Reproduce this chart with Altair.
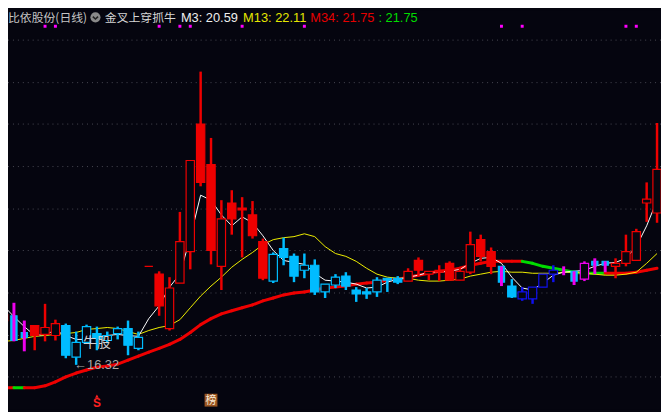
import altair as alt
import pandas as pd

# ---------------- data ----------------
opens  = [18.81, 19.08, 18.14, 18.53, 18.03, 17.97, 18.53, 16.75, 17.58, 18.08,
          17.69, 18.08, 18.36, 17.25, 21.86, 21.42, 18.36, 20.92, 22.69, 29.86,
          27.58, 21.86, 25.42, 25.14, 24.75, 23.25, 21.03, 22.86, 22.42, 21.64,
          21.92, 20.42, 20.81, 21.31, 20.53, 20.42, 20.42, 21.19, 21.19, 21.03,
          22.19, 21.42, 21.64, 22.03, 21.08, 21.53, 23.36, 22.69, 21.86, 20.75,
          20.03, 20.03, 20.69, 21.42, 21.69, 21.58, 21.14, 22.14, 22.14, 21.86,
          22.03, 22.19, 25.42, 24.86]
highs  = [20.03, 19.81, 18.81, 18.53, 19.75, 18.86, 18.64, 18.19, 18.58, 18.47,
          18.19, 18.47, 18.81, 18.19, 21.86, 21.58, 21.25, 24.92, 27.81, 32.81,
          29.08, 25.58, 26.14, 25.75, 25.53, 23.42, 22.64, 23.47, 22.58, 22.58,
          22.25, 20.86, 21.42, 21.53, 20.69, 20.64, 21.25, 21.19, 21.31, 21.75,
          22.36, 21.58, 21.92, 22.14, 21.75, 23.81, 23.64, 22.92, 21.86, 21.14,
          20.69, 20.69, 21.42, 21.92, 21.86, 21.58, 22.14, 22.31, 22.14, 22.31,
          23.64, 23.97, 26.58, 29.92]
lows   = [18.36, 17.64, 17.08, 17.14, 17.64, 17.69, 16.69, 16.32, 17.53, 17.14,
          17.53, 17.75, 16.86, 17.14, 21.86, 19.08, 18.25, 20.92, 21.69, 26.36,
          21.97, 20.53, 23.64, 22.36, 23.42, 21.08, 20.92, 21.92, 20.97, 21.19,
          20.25, 20.08, 20.64, 20.53, 19.86, 20.03, 20.14, 20.42, 20.86, 21.03,
          21.31, 21.08, 21.03, 21.08, 21.08, 21.42, 22.14, 21.42, 20.75, 20.08,
          19.92, 19.75, 20.69, 20.97, 21.36, 20.81, 21.03, 21.42, 21.53, 21.19,
          21.86, 22.19, 24.36, 24.31]
closes = [19.14, 17.69, 17.86, 17.97, 18.42, 18.64, 16.86, 17.58, 18.47, 17.81,
          17.97, 18.36, 17.42, 17.86, 21.86, 19.64, 20.64, 23.25, 27.81, 26.58,
          22.75, 24.53, 24.53, 25.03, 23.58, 21.19, 22.53, 22.36, 21.31, 21.92,
          20.42, 20.86, 21.25, 20.75, 20.31, 20.31, 21.08, 21.08, 20.97, 21.58,
          21.64, 21.58, 21.53, 21.08, 21.58, 23.08, 22.42, 21.86, 20.97, 20.14,
          20.42, 20.69, 21.42, 21.64, 21.58, 21.03, 22.03, 21.92, 21.92, 22.03,
          22.69, 23.81, 25.64, 27.31]
# candle style as seen: r=red, c=cyan, b=blue, m=magenta; h=hollow, f=filled; cm=cyan body + magenta bar
kinds  = ["rh", "cm", "cm", "rf", "rh", "rh", "cf", "ch", "ch", "cf",
          "ch", "ch", "cf", "ch", "rf", "rf", "rh", "rh", "rh", "rf",
          "rf", "rh", "rf", "rf", "rf", "rf", "ch", "cf", "cf", "ch",
          "cf", "ch", "ch", "cf", "cf", "cf", "ch", "cf", "cf", "rh",
          "rf", "rh", "rf", "rf", "rh", "rh", "rf", "rf", "cm", "cf",
          "bh", "bh", "bh", "bh", "m", "cm", "mh", "cm", "cm", "rh",
          "rh", "rh", "rh", "rh"]

m3  = [19.64, 19.03, 18.47, 17.97, 18.03, 18.25, 17.97, 17.75, 17.75, 17.86,
       17.97, 18.03, 17.97, 17.92, 18.92, 19.64, 20.69, 21.42, 23.47, 25.86,
       25.58, 24.75, 24.14, 24.64, 24.31, 23.58, 22.75, 22.19, 22.08, 21.97,
       21.47, 21.08, 21.03, 20.97, 20.86, 20.64, 20.69, 20.97, 21.14, 21.25,
       21.36, 21.53, 21.53, 21.58, 21.69, 22.03, 22.31, 22.36, 22.03, 21.25,
       20.64, 20.53, 20.92, 21.36, 21.53, 21.58, 21.64, 21.86, 22.03, 22.08,
       22.31, 22.97, 24.14, 25.58]
m13 = [17.64, 17.69, 17.81, 17.92, 17.97, 18.03, 18.08, 18.14, 18.31, 18.36,
       18.42, 18.36, 18.19, 18.03, 18.25, 18.42, 18.53, 18.86, 19.53, 20.19,
       20.75, 21.25, 21.81, 22.25, 22.64, 23.08, 23.36, 23.47, 23.53, 23.69,
       23.53, 22.97, 22.58, 22.42, 22.14, 21.75, 21.42, 21.25, 21.19, 21.19,
       21.08, 21.03, 21.03, 21.08, 21.14, 21.31, 21.42, 21.53, 21.58, 21.53,
       21.53, 21.47, 21.47, 21.47, 21.53, 21.53, 21.47, 21.42, 21.36, 21.36,
       21.42, 21.53, 22.03, 22.58]
m34 = [15.03, 15.03, 15.03, 15.03, 15.14, 15.36, 15.64, 15.86, 16.03, 16.19,
       16.25, 16.36, 16.58, 16.81, 17.03, 17.25, 17.47, 17.75, 18.14, 18.58,
       18.92, 19.19, 19.36, 19.53, 19.69, 19.92, 20.08, 20.25, 20.36, 20.42,
       20.53, 20.64, 20.69, 20.75, 20.86, 20.92, 20.97, 21.08, 21.14, 21.25,
       21.36, 21.47, 21.58, 21.64, 21.75, 21.92, 22.03, 22.14, 22.14, 22.14,
       22.14, 22.03, 21.86, 21.75, 21.64, 21.53, 21.47, 21.47, 21.47, 21.47,
       21.47, 21.53, 21.64, 21.75]
m34_green_segments = [1, 50, 51, 52, 53, 54, 55, 56, 57]   # segment i -> i+1 drawn green

signal_days = [0, 4, 5, 15, 17, 18, 23, 29, 48, 50, 60, 61]
grid_levels = [15.64, 17.97, 20.36, 22.75, 25.08, 27.47, 29.86, 32.19, 34.58]

low_day, low_price = 7, 16.32
niu_day, niu_price = 9, 17.53
s_icon_day = 9
bang_icon_day = 20

stock_title = "比依股份(日线)"
indicator_name = "金叉上穿抓牛"
hdr_m3, hdr_m13, hdr_m34, hdr_last = 20.59, 22.11, 21.75, 21.75

# ---------------- styling ----------------
BG = "#05050f"
RED = "#ee0000"
CYAN = "#00bcff"
BLUE = "#1010ee"
MAG = "#ee00ee"
GREEN = "#00dd00"

n = len(opens)
df = pd.DataFrame({"i": list(range(n)), "o": opens, "h": highs, "l": lows, "c": closes, "k": kinds})
base = {"rh": RED, "rf": RED, "ch": CYAN, "cf": CYAN, "bh": BLUE, "mh": MAG, "cm": CYAN, "m": MAG}
df["top"] = df[["o", "c"]].max(axis=1)
df["bot"] = df[["o", "c"]].min(axis=1)
df["col"] = [base[k] for k in kinds]
df["fillc"] = [BG if k in ("rh", "ch", "bh", "mh") else base[k] for k in kinds]
df["half"] = [0.3 if k == "cm" else 0.4 for k in kinds]
df["x0"] = df["i"] - df["half"]
df["x1"] = df["i"] + df["half"]
df["m3"] = m3
df["m13"] = m13

seg = pd.DataFrame({
    "i": list(range(n - 1)),
    "j": list(range(1, n)),
    "a": m34[:-1],
    "b": m34[1:],
    "col": [GREEN if s in m34_green_segments else RED for s in range(n - 1)],
})

xs = alt.Scale(domain=[0.4286, 63.381], nice=False, zero=False)
ys = alt.Scale(domain=[13.805, 36.25], nice=False, zero=False)
X = lambda f: alt.X(f, scale=xs, axis=None)
Y = lambda f: alt.Y(f, scale=ys, axis=None)

grid = alt.Chart(pd.DataFrame({"g": grid_levels})).mark_rule(
    color="#4a4a54", strokeDash=[1, 4], strokeWidth=1
).encode(y=Y("g:Q"))

m34_line = alt.Chart(seg).mark_rule(strokeWidth=3, strokeCap="round").encode(
    x=X("i:Q"), x2="j:Q", y=Y("a:Q"), y2="b:Q", color=alt.Color("col:N", scale=None)
)
m13_line = alt.Chart(df).mark_line(color="#f0f000", strokeWidth=1).encode(x=X("i:Q"), y=Y("m13:Q"))
m3_line = alt.Chart(df).mark_line(color="#ffffff", strokeWidth=1).encode(x=X("i:Q"), y=Y("m3:Q"))

wicks = alt.Chart(df).transform_filter(
    "datum.k != 'cm' && datum.k != 'm'"
).mark_rule(strokeWidth=2.5).encode(
    x=X("i:Q"), y=Y("l:Q"), y2="h:Q", color=alt.Color("col:N", scale=None)
)
bodies = alt.Chart(df).transform_filter("datum.k != 'm'").mark_rect(strokeWidth=1.2).encode(
    x=X("x0:Q"), x2="x1:Q", y=Y("bot:Q"), y2="top:Q",
    fill=alt.Fill("fillc:N", scale=None), stroke=alt.Stroke("col:N", scale=None)
)
magbars = alt.Chart(df).transform_filter(
    "datum.k == 'cm' || datum.k == 'm'"
).mark_rule(strokeWidth=3, color=MAG).encode(x=X("i:Q"), y=Y("l:Q"), y2="h:Q")

niu = alt.Chart(pd.DataFrame({"i": [niu_day], "p": [niu_price], "t": ["牛股"]})).mark_text(
    font="Noto Sans CJK SC", fontSize=14, color="#d0d0d0", align="center", baseline="middle"
).encode(x=X("i:Q"), y=Y("p:Q"), text="t:N")
lowlbl = alt.Chart(pd.DataFrame({"i": [low_day], "p": [low_price], "t": [f"←{low_price:.2f}"]})).mark_text(
    font="Liberation Sans", fontSize=13, color="#a8a8a8", align="left", baseline="middle", dx=-2
).encode(x=X("i:Q"), y=Y("p:Q"), text="t:N")

dots = alt.Chart(pd.DataFrame({"i": signal_days})).mark_square(size=9, color="#ff00ff", opacity=1).encode(
    x=X("i:Q"), y=alt.value(16)
)

def htext(t, x, color, font, size):
    return alt.Chart(pd.DataFrame({"t": [t]})).mark_text(
        font=font, fontSize=size, color=color, align="left", baseline="alphabetic"
    ).encode(text="t:N", x=alt.value(x), y=alt.value(11.5))

hdr = [
    htext(stock_title, 0, "#c4c4c4", "Noto Sans CJK SC", 12),
    htext(indicator_name, 98, "#d6d6d6", "Noto Sans CJK SC", 12),
    htext(f"M3: {hdr_m3:.2f}", 175, "#eeeeee", "Liberation Sans", 13),
    htext(f"M13: {hdr_m13:.2f}", 238, "#e6e600", "Liberation Sans", 13),
    htext(f"M34: {hdr_m34:.2f}", 306, "#e60000", "Liberation Sans", 13),
    htext(f": {hdr_last:.2f}", 375, "#00dd00", "Liberation Sans", 13),
]
icon = alt.Chart(pd.DataFrame({"t": [0]})).mark_circle(size=105, color="#8a8a8a", opacity=1).encode(
    x=alt.value(88.5), y=alt.value(7)
)
chev = alt.Chart(pd.DataFrame({"t": [0]})).mark_point(
    shape="M-1,-0.45L0,0.45L1,-0.45", size=28, stroke="#222222", strokeWidth=1.6, filled=False, opacity=1
).encode(x=alt.value(88.5), y=alt.value(7.5))

s_tri = alt.Chart(pd.DataFrame({"i": [s_icon_day]})).mark_point(
    shape="triangle-up", size=14, filled=True, color="#ff2020", opacity=1
).encode(x=X("i:Q"), y=alt.value(390.5))
s_txt = alt.Chart(pd.DataFrame({"i": [s_icon_day], "t": ["S"]})).mark_text(
    font="Liberation Sans", fontSize=12, fontWeight="bold", color="#ff2020", baseline="middle"
).encode(x=X("i:Q"), y=alt.value(397), text="t:N")
bang_bg = alt.Chart(pd.DataFrame({"i": [bang_icon_day]})).mark_square(
    size=169, color="#9a5522", opacity=1
).encode(x=X("i:Q"), y=alt.value(394.5))
bang_txt = alt.Chart(pd.DataFrame({"i": [bang_icon_day], "t": ["榜"]})).mark_text(
    font="Noto Sans CJK SC", fontSize=11, color="#f7e9d7", baseline="middle"
).encode(x=X("i:Q"), y=alt.value(395), text="t:N")

chart = alt.layer(
    grid, m34_line, m13_line, m3_line, wicks, bodies, magbars,
    niu, lowlbl, dots, *hdr, icon, chev, s_tri, s_txt, bang_bg, bang_txt
).properties(
    width=661, height=404, autosize=alt.AutoSizeParams(type="none"), padding=0, background=BG
).configure_view(strokeWidth=0, fill=BG)

chart.save("out.html", embed_options={"renderer": "svg", "actions": False})
